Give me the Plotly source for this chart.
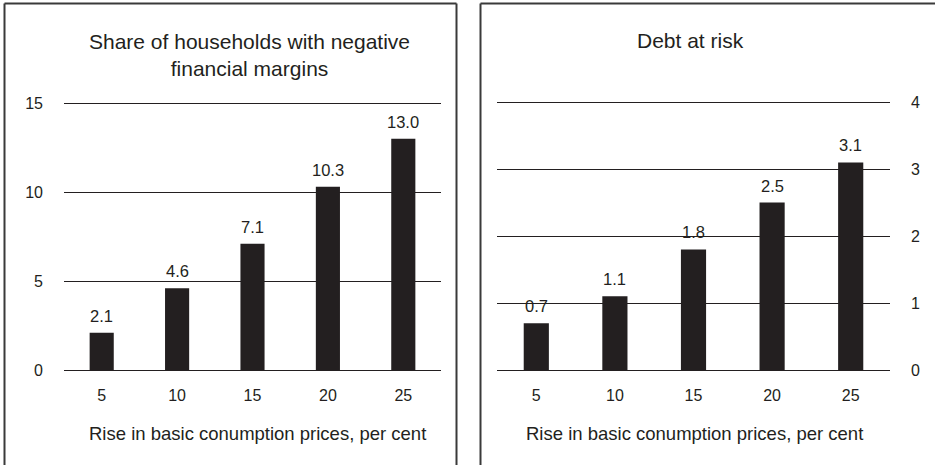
import plotly.graph_objects as go
from plotly.subplots import make_subplots

# rise in basic consumption prices, per cent
price_rise = ["5", "10", "15", "20", "25"]
# share of households with negative financial margins
share_negative = [2.1, 4.6, 7.1, 10.3, 13.0]
# debt at risk
debt_at_risk = [0.7, 1.1, 1.8, 2.5, 3.1]

left_title = "Share of households with negative<br>financial margins"
right_title = "Debt at risk"
x_title = "Rise in basic conumption prices, per cent"

W, H = 935, 465
FONT = "Liberation Sans, Arial, sans-serif"
INK = "#231f20"


def px(x):
    return x / W


def py(y):
    return 1 - y / H


fig = make_subplots(rows=1, cols=2)

for col, vals in [(1, share_negative), (2, debt_at_risk)]:
    fig.add_trace(go.Bar(
        x=price_rise, y=vals,
        marker=dict(color=INK, line=dict(width=0)),
        showlegend=False, hoverinfo="x+y",
    ), row=1, col=col)
    # value labels above the bars (category axis -> serial index)
    xr = "x" if col == 1 else "x2"
    yr = "y" if col == 1 else "y2"
    for i, v in enumerate(vals):
        fig.add_annotation(x=i, y=v, xref=xr, yref=yr, text=f"{v:.1f}",
                           showarrow=False, xanchor="center", yanchor="middle",
                           yshift=17, font=dict(size=16.5, color=INK, family=FONT))

axis_common = dict(showline=False, ticks="", automargin=False,
                   tickfont=dict(size=16, color=INK, family=FONT))
grid = dict(showgrid=True, gridcolor=INK, gridwidth=1,
            zeroline=True, zerolinecolor=INK, zerolinewidth=1, ticklabelstandoff=20)

# tiny headroom so the top gridline (15 / 4) is still drawn
fig.update_layout(
    width=W, height=H,
    margin=dict(l=0, r=0, t=0, b=0, autoexpand=False),
    paper_bgcolor="white", plot_bgcolor="white",
    bargap=0.68,
    xaxis=dict(domain=[px(64), px(441)], type="category", ticklabelstandoff=14, **axis_common),
    xaxis2=dict(domain=[px(497), px(890)], type="category", ticklabelstandoff=14, **axis_common),
    yaxis=dict(domain=[py(370), py(102)], range=[0, 15.06], tickvals=[0, 5, 10, 15],
               **grid, **axis_common),
    yaxis2=dict(domain=[py(370), py(99.5)], range=[0, 4.04], tickvals=[0, 1, 2, 3, 4],
                side="right", **grid, **axis_common),
)

# panel titles and x-axis titles
ann_font = dict(size=21, color=INK, family=FONT)
fig.add_annotation(text=left_title, x=px(249), y=py(55), xref="paper", yref="paper",
                   xanchor="center", yanchor="middle", showarrow=False, font=ann_font)
fig.add_annotation(text=right_title, x=px(690), y=py(40), xref="paper", yref="paper",
                   xanchor="center", yanchor="middle", showarrow=False, font=ann_font)
for cx in (257, 694):
    fig.add_annotation(text=x_title, x=px(cx), y=py(433), xref="paper", yref="paper",
                       xanchor="center", yanchor="middle", showarrow=False,
                       font=dict(size=18.5, color=INK, family=FONT))

# panel frames
frame = dict(color="#3a3a3a", width=2)
for x0, y0, x1, y1 in [(4.5, 3.5, 456.5, 3.5), (4.5, 3.5, 4.5, 470), (456.5, 3.5, 456.5, 470),
                       (480.5, 3.5, 940, 3.5), (480.5, 3.5, 480.5, 470)]:
    fig.add_shape(type="line", xref="paper", yref="paper",
                  x0=px(x0), y0=py(y0), x1=px(x1), y1=py(y1), line=frame)

fig.write_html("out.html", config={"displayModeBar": False},
               post_script="document.body.style.margin='0';")
